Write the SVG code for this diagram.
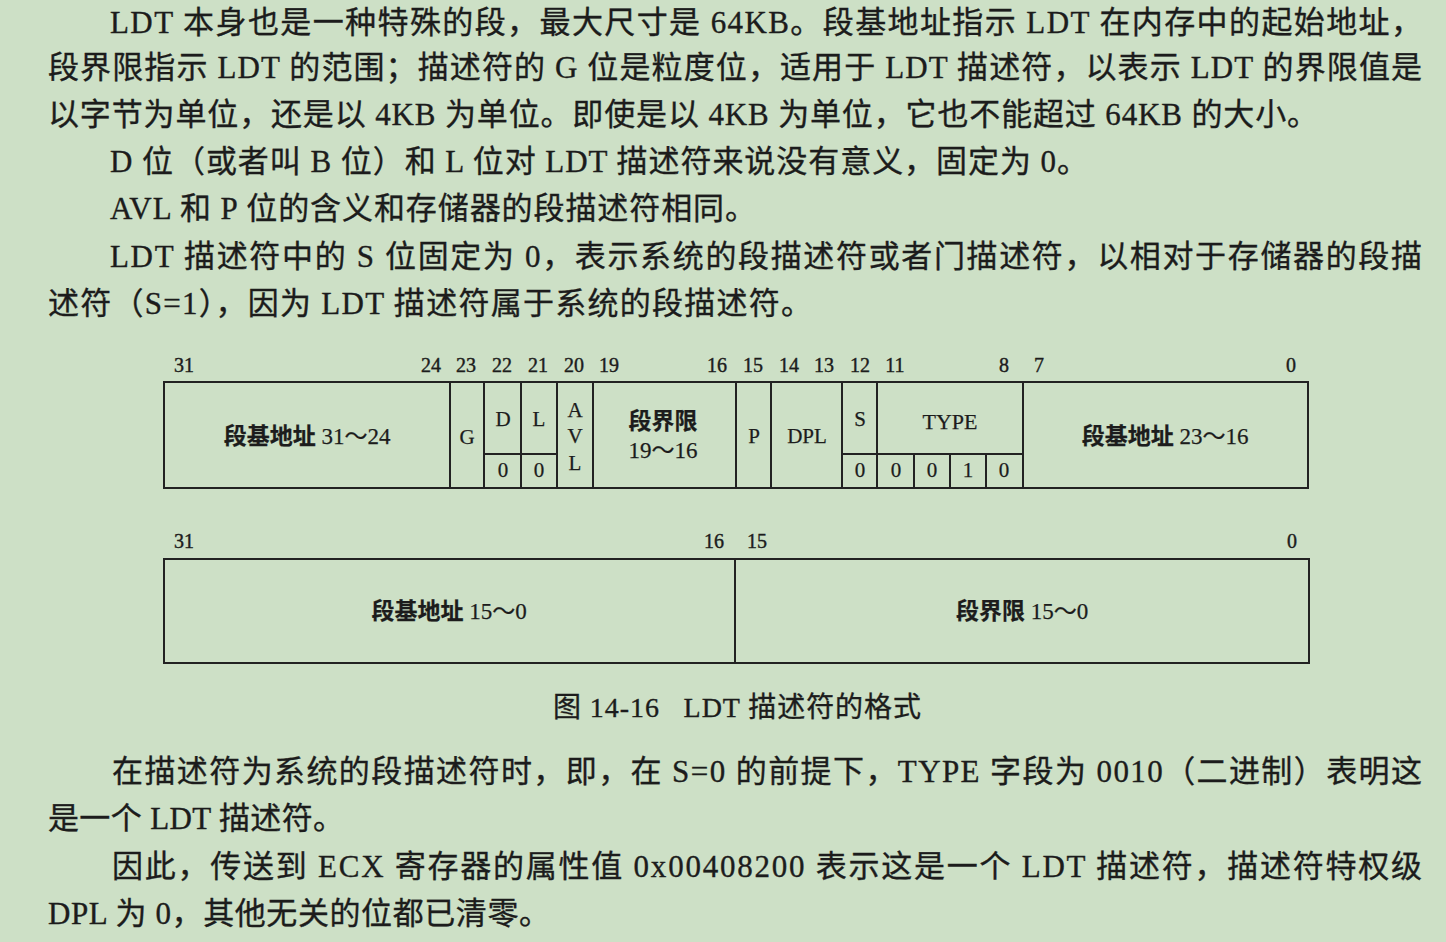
<svg xmlns="http://www.w3.org/2000/svg" width="1446" height="942" viewBox="0 0 1446 942">
<style>
.body{font-family:"Liberation Serif","Noto Sans CJK SC",serif;font-size:31px;fill:#1c1c1c;stroke:#1c1c1c;stroke-width:0.35}
.cap{font-family:"Liberation Serif","Noto Sans CJK SC",serif;font-size:28px;fill:#1c1c1c;stroke:#1c1c1c;stroke-width:0.35}
.bit{font-family:"Liberation Serif","Noto Sans CJK SC",serif;font-size:20px;fill:#1c1c1c;stroke:#1c1c1c;stroke-width:0.4;text-anchor:middle}
.lbl{font-family:"Liberation Serif","Noto Sans CJK SC",serif;font-size:21px;fill:#1c1c1c;stroke:#1c1c1c;stroke-width:0.25;text-anchor:middle}
.big{font-size:23px}
.cjk{font-weight:bold}
.box{fill:none;stroke:#222;stroke-width:2}
.ln{stroke:#222;stroke-width:2}
</style>
<rect x="0" y="0" width="1446" height="942" fill="#cde0c6"/>

<g id="paragraph-top">
<text class="body" x="110" y="33" textLength="1312" lengthAdjust="spacing">LDT 本身也是一种特殊的段，最大尺寸是 64KB。段基地址指示 LDT 在内存中的起始地址，</text>
<text class="body" x="48" y="78" textLength="1374" lengthAdjust="spacing">段界限指示 LDT 的范围；描述符的 G 位是粒度位，适用于 LDT 描述符，以表示 LDT 的界限值是</text>
<text class="body" x="48" y="125" textLength="1270" lengthAdjust="spacing">以字节为单位，还是以 4KB 为单位。即使是以 4KB 为单位，它也不能超过 64KB 的大小。</text>
<text class="body" x="110" y="172" textLength="978" lengthAdjust="spacing">D 位（或者叫 B 位）和 L 位对 LDT 描述符来说没有意义，固定为 0。</text>
<text class="body" x="110" y="219" textLength="646" lengthAdjust="spacing">AVL 和 P 位的含义和存储器的段描述符相同。</text>
<text class="body" x="110" y="267" textLength="1312" lengthAdjust="spacing">LDT 描述符中的 S 位固定为 0，表示系统的段描述符或者门描述符，以相对于存储器的段描</text>
<text class="body" x="48" y="314" textLength="764" lengthAdjust="spacing">述符（S=1），因为 LDT 描述符属于系统的段描述符。</text>
</g>

<g id="row1-bits">
<text class="bit" x="184" y="372">31</text>
<text class="bit" x="431" y="372">24</text>
<text class="bit" x="466" y="372">23</text>
<text class="bit" x="502" y="372">22</text>
<text class="bit" x="538" y="372">21</text>
<text class="bit" x="574" y="372">20</text>
<text class="bit" x="609" y="372">19</text>
<text class="bit" x="717" y="372">16</text>
<text class="bit" x="753" y="372">15</text>
<text class="bit" x="789" y="372">14</text>
<text class="bit" x="824" y="372">13</text>
<text class="bit" x="860" y="372">12</text>
<text class="bit" x="895" y="372">11</text>
<text class="bit" x="1004" y="372">8</text>
<text class="bit" x="1039" y="372">7</text>
<text class="bit" x="1291" y="372">0</text>
</g>

<g id="row1-frame">
<rect class="box" x="164" y="382" width="1144" height="106"/>
</g>

<g id="field-base-31-24">
<text class="lbl big" x="307" y="444"><tspan class="cjk">段基地址</tspan> 31～24</text>
</g>
<g id="field-G">
<line class="ln" x1="450" y1="382" x2="450" y2="488"/>
<text class="lbl" x="467" y="444">G</text>
</g>
<g id="field-D">
<line class="ln" x1="484" y1="382" x2="484" y2="488"/>
<line class="ln" x1="484" y1="454" x2="557" y2="454"/>
<text class="lbl" x="503" y="426">D</text>
<text class="lbl" x="503" y="477">0</text>
</g>
<g id="field-L">
<line class="ln" x1="521" y1="382" x2="521" y2="488"/>
<text class="lbl" x="539" y="426">L</text>
<text class="lbl" x="539" y="477">0</text>
</g>
<g id="field-AVL">
<line class="ln" x1="557" y1="382" x2="557" y2="488"/>
<text class="lbl" x="575" y="417">A</text>
<text class="lbl" x="575" y="443">V</text>
<text class="lbl" x="575" y="470">L</text>
</g>
<g id="field-limit-19-16">
<line class="ln" x1="593" y1="382" x2="593" y2="488"/>
<text class="lbl big cjk" x="663" y="429">段界限</text>
<text class="lbl big" x="663" y="458">19～16</text>
</g>
<g id="field-P">
<line class="ln" x1="736" y1="382" x2="736" y2="488"/>
<text class="lbl" x="754" y="443">P</text>
</g>
<g id="field-DPL">
<line class="ln" x1="771" y1="382" x2="771" y2="488"/>
<text class="lbl" x="807" y="443">DPL</text>
</g>
<g id="field-S">
<line class="ln" x1="842" y1="382" x2="842" y2="488"/>
<line class="ln" x1="842" y1="454" x2="1023" y2="454"/>
<text class="lbl" x="860" y="426">S</text>
<text class="lbl" x="860" y="477">0</text>
</g>
<g id="field-TYPE">
<line class="ln" x1="877" y1="382" x2="877" y2="488"/>
<line class="ln" x1="914" y1="454" x2="914" y2="488"/>
<line class="ln" x1="950" y1="454" x2="950" y2="488"/>
<line class="ln" x1="986" y1="454" x2="986" y2="488"/>
<text class="lbl" x="950" y="429" style="font-size:22px">TYPE</text>
<text class="lbl" x="896" y="477">0</text>
<text class="lbl" x="932" y="477">0</text>
<text class="lbl" x="968" y="477">1</text>
<text class="lbl" x="1004" y="477">0</text>
</g>
<g id="field-base-23-16">
<line class="ln" x1="1023" y1="382" x2="1023" y2="488"/>
<text class="lbl big" x="1165" y="444"><tspan class="cjk">段基地址</tspan> 23～16</text>
</g>

<g id="row2-bits">
<text class="bit" x="184" y="548">31</text>
<text class="bit" x="714" y="548">16</text>
<text class="bit" x="757" y="548">15</text>
<text class="bit" x="1292" y="548">0</text>
</g>
<g id="row2-frame">
<rect class="box" x="164" y="559" width="1145" height="104"/>
</g>
<g id="field-base-15-0">
<text class="lbl big" x="449" y="619"><tspan class="cjk">段基地址</tspan> 15～0</text>
</g>
<g id="field-limit-15-0">
<line class="ln" x1="735" y1="559" x2="735" y2="663"/>
<text class="lbl big" x="1022" y="619"><tspan class="cjk">段界限</tspan> 15～0</text>
</g>

<g id="connectors"></g>

<g id="caption">
<text class="cap" x="553" y="717" textLength="368" lengthAdjust="spacing" xml:space="preserve">图 14-16   LDT 描述符的格式</text>
</g>

<g id="paragraph-bottom">
<text class="body" x="112" y="782" textLength="1310" lengthAdjust="spacing">在描述符为系统的段描述符时，即，在 S=0 的前提下，TYPE 字段为 0010（二进制）表明这</text>
<text class="body" x="48" y="829" textLength="296" lengthAdjust="spacing">是一个 LDT 描述符。</text>
<text class="body" x="112" y="877" textLength="1310" lengthAdjust="spacing">因此，传送到 ECX 寄存器的属性值 0x00408200 表示这是一个 LDT 描述符，描述符特权级</text>
<text class="body" x="48" y="924" textLength="502" lengthAdjust="spacing">DPL 为 0，其他无关的位都已清零。</text>
</g>
</svg>
